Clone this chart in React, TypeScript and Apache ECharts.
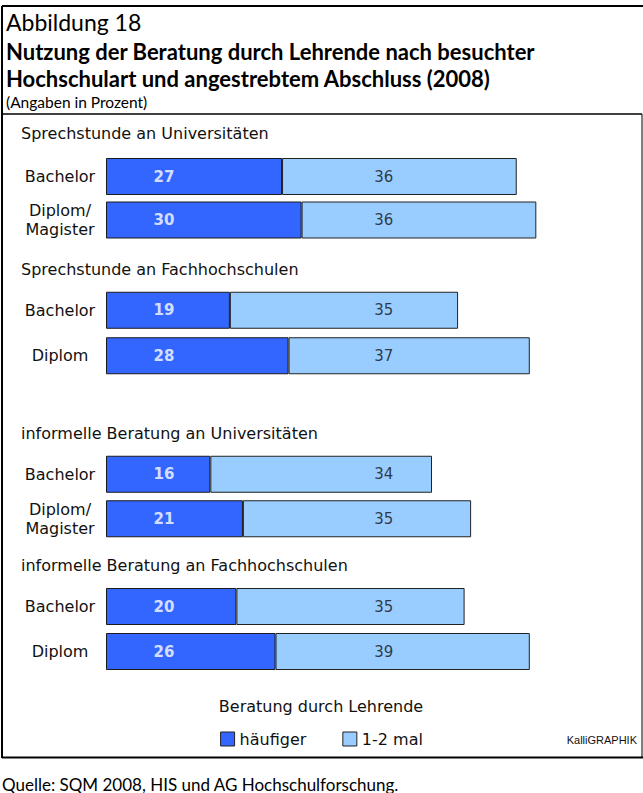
import React, { useEffect, useRef } from "react";
import * as echarts from "echarts";

// ---- data ----
const sectionTitles = [
  "Sprechstunde an Universitäten",
  "Sprechstunde an Fachhochschulen",
  "informelle Beratung an Universitäten",
  "informelle Beratung an Fachhochschulen",
];
const categoriesUni = ["Bachelor", "Diplom/\nMagister"];
const categoriesFH = ["Bachelor", "Diplom"];
const groupCategories = [categoriesUni, categoriesFH, categoriesUni, categoriesFH];
const haeufiger = [
  [27, 30],
  [19, 28],
  [16, 21],
  [20, 26],
];
const einZweiMal = [
  [36, 36],
  [35, 37],
  [34, 35],
  [35, 39],
];
const seriesNames = ["häufiger", "1-2 mal"];
const legendTitle = "Beratung durch Lehrende";
const figureLabel = "Abbildung 18";
const titleLines = [
  "Nutzung der Beratung durch Lehrende nach besuchter",
  "Hochschulart und angestrebtem Abschluss (2008)",
];
const subtitle = "(Angaben in Prozent)";
const sourceText = "Quelle: SQM 2008, HIS und AG Hochschulforschung.";
const creditText = "KalliGRAPHIK";
// value-axis positions of the value label columns
const labelColumnDark = 8.9;
const labelColumnLight = 42.6;

// ---- layout ----
const gridTops = [154.75, 287.5, 452, 584];
const gridHeights = [87, 91, 89, 90];
const headerY = [133, 269, 433, 565];
const DARK = "#3366FF";
const LIGHT = "#99CCFF";
const SANS = "'DejaVu Sans'";
const HUM = "Lato";

export default function App() {
  const ref = useRef<HTMLDivElement>(null);
  useEffect(() => {
    document.body.style.margin = "0";
    const chart = echarts.init(ref.current!, null, { renderer: "svg" });
    const grids: any[] = [];
    const xAxes: any[] = [];
    const yAxes: any[] = [];
    const series: any[] = [];
    groupCategories.forEach((cats, g) => {
      grids.push({ left: 106, right: 15.4, top: gridTops[g], height: gridHeights[g] });
      xAxes.push({ gridIndex: g, type: "value", min: 0, max: 80, show: false });
      yAxes.push({
        gridIndex: g,
        type: "category",
        inverse: true,
        data: cats,
        axisLine: { show: false },
        axisTick: { show: false },
        axisLabel: {
          margin: 46,
          align: "center",
          fontFamily: SANS,
          fontSize: 16,
          color: "#111",
          lineHeight: 19,
        },
      });
      const common = {
        type: "bar",
        stack: "s" + g,
        xAxisIndex: g,
        yAxisIndex: g,
        barWidth: 37,
        silent: true,
      };
      series.push({
        ...common,
        name: seriesNames[0],
        data: haeufiger[g],
        itemStyle: { color: DARK, borderColor: "#1a1a1a", borderWidth: 1 },
      });
      series.push({
        ...common,
        name: seriesNames[1],
        data: einZweiMal[g],
        itemStyle: { color: LIGHT, borderColor: "#222", borderWidth: 1 },
      });
      const lab = (vals: number[], col: number, color: string, weight: string, nm: string) => ({
        type: "scatter",
        name: nm,
        xAxisIndex: g,
        yAxisIndex: g,
        symbolSize: 1,
        silent: true,
        itemStyle: { color: "rgba(0,0,0,0)" },
        data: vals.map((v, i) => [col, i, v]),
        label: {
          show: true,
          position: "inside",
          formatter: (p: any) => String(p.value[2]),
          color,
          fontWeight: weight,
          fontFamily: SANS,
          fontSize: 15,
        },
        z: 5,
      });
      series.push(lab(haeufiger[g], labelColumnDark, "#fff", "bold", "lblDark"));
      series.push(lab(einZweiMal[g], labelColumnLight, "#111", "normal", "lblLight"));
    });

    const txt = (text: string, x: number, y: number, font: string, align = "left", fill = "#000") => ({
      type: "text",
      x,
      y,
      silent: true,
      style: {
        text,
        font,
        fill,
        textAlign: align,
        align,
        textVerticalAlign: "middle",
        verticalAlign: "middle",
      },
    });
    const ln = (x1: number, y1: number, x2: number, y2: number, w: number) => ({
      type: "line",
      silent: true,
      shape: { x1, y1, x2, y2 },
      style: { stroke: "#000", lineWidth: w },
    });

    const graphic: any[] = [
      ln(2, 6, 643, 6, 2),
      ln(2, 6, 2, 758, 2),
      ln(2, 114, 642, 114, 1.5),
      ln(642, 114, 642, 758, 1),
      ln(2, 757.5, 643, 757.5, 2),
      txt(figureLabel, 6, 22, `23px ${HUM}`),
      txt(titleLines[0], 6, 51, `bold 22px ${HUM}`),
      txt(titleLines[1], 6, 78, `bold 22px ${HUM}`),
      txt(subtitle, 6, 102, `15.5px ${HUM}`),
      ...sectionTitles.map((t, i) => txt(t, 21, headerY[i], `16px ${SANS}`, "left", "#111")),
      txt(legendTitle, 321, 706, `16px ${SANS}`, "center", "#111"),
      txt(creditText, 637, 740, `11px 'Liberation Sans'`, "right", "#111"),
      txt(sourceText, 2, 784, `17px ${HUM}`),
    ];

    chart.setOption({
      animation: false,
      grid: grids,
      xAxis: xAxes,
      yAxis: yAxes,
      series,
      legend: {
        data: seriesNames,
        left: "center",
        top: 726,
        icon: "rect",
        itemWidth: 14,
        itemHeight: 14,
        itemGap: 36,
        selectedMode: false,
        textStyle: { fontFamily: SANS, fontSize: 16, color: "#111" },
        itemStyle: { borderColor: "#222", borderWidth: 1 },
      },
      graphic,
    });
    return () => chart.dispose();
  }, []);
  return (
    <div
      ref={ref}
      style={{ position: "absolute", left: 0, top: 0, width: 643, height: 793, background: "#fff" }}
    />
  );
}
